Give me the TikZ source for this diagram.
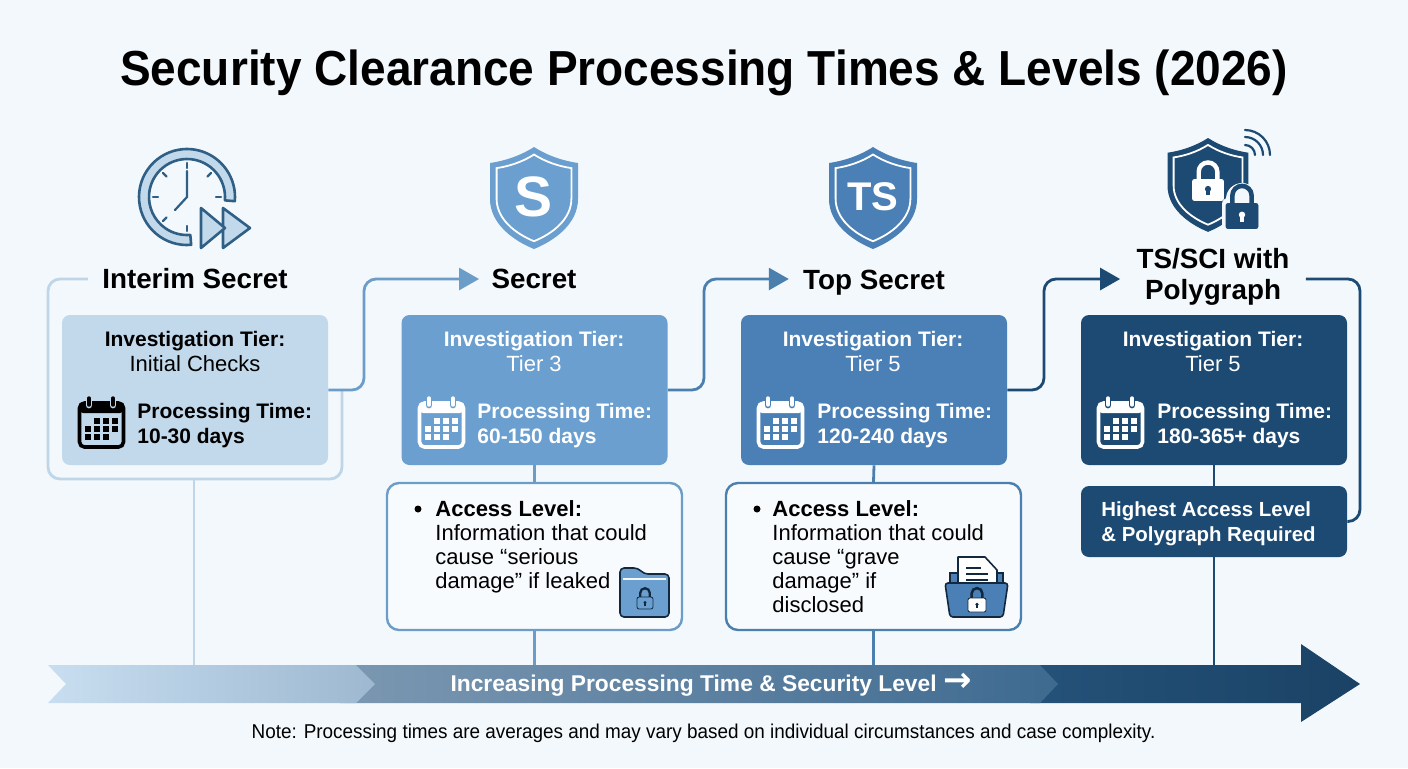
\documentclass[tikz,border=0pt]{standalone}
\usepackage{xcolor}
\usepackage{fontspec}
\setmainfont{Liberation Sans}
\newfontfamily\titlefont[FakeStretch=0.935]{Liberation Sans}
\newfontfamily\notefont[FakeStretch=0.945]{Liberation Sans}
\newfontfamily\arrowfont{DejaVu Sans}
\usetikzlibrary{calc,positioning,arrows.meta}

\definecolor{bgcol}{HTML}{F3F8FC}
\definecolor{tierA}{HTML}{C2D8EB}
\definecolor{tierB}{HTML}{6A9FCF}
\definecolor{tierC}{HTML}{4A80B5}
\definecolor{tierD}{HTML}{1C4A73}
\definecolor{lineA}{HTML}{BFD5E8}
\definecolor{lineB}{HTML}{6C9DC8}
\definecolor{lineC}{HTML}{4A7FAE}
\definecolor{iconD}{HTML}{2F5F85}
\definecolor{inkD}{HTML}{12283F}
\definecolor{bandA}{HTML}{C8DEF0}
\definecolor{bandB}{HTML}{9DB8D0}
\definecolor{bandC}{HTML}{7C98B2}
\definecolor{bandD}{HTML}{3E6A90}
\definecolor{bandE}{HTML}{255279}
\definecolor{bandF}{HTML}{1A4265}

% shield outline around its middle
\newcommand{\shieldpath}{(0,-50) .. controls (14,-41) and (30,-36) .. (44,-34) -- (44,2) .. controls (44,26) and (22,43) .. (0,52) .. controls (-22,43) and (-44,26) .. (-44,2) -- (-44,-34) .. controls (-30,-36) and (-14,-41) .. (0,-50) -- cycle}
\newcommand{\shieldicon}[4]{
	\begin{scope}[shift={(#1,#2)},scale=#3]
		\fill[#4] \shieldpath;
		\draw[white,line width=0.9pt,scale=0.85] \shieldpath;
	\end{scope}
}
% x, y, width, height, body, hole, outline
\newcommand{\padlock}[7]{
	\begin{scope}[shift={(#1,#2)}]
		\draw[#7,line width={#3/14*1pt}] ({-0.3*#3},{-0.5*#4}) -- ++(0,{-0.25*#3}) arc (180:360:{0.3*#3}) -- ++(0,{0.25*#3});
		\filldraw[fill=#5,draw=#7,line width=0.4pt,rounded corners=1pt] ({-0.5*#3},{-0.5*#4}) rectangle ({0.5*#3},{0.5*#4});
		\fill[#6] (0,{-0.05*#4}) circle ({0.1*#3});
		\draw[#6,line width={#3/18*1pt}] (0,0) -- (0,{0.22*#4});
	\end{scope}
}
% x, y, ink, card colour
\newcommand{\calicon}[4]{
	\begin{scope}[shift={(#1,#2)}]
		\draw[#3,line width=1.8pt,rounded corners=2.5pt] (1.5,6) rectangle (45.5,50);
		\fill[#3,rounded corners=2pt] (1,5) rectangle (46,16);
		\draw[#4,line width=3.4pt,line cap=round] (11,1) -- (11,8) (35,1) -- (35,8);
		\draw[#3,line width=1.7pt,line cap=round] (11,1) -- (11,8) (35,1) -- (35,8);
		\foreach \cx/\cy in {19/24,28/24,37/24,10/32,19/32,28/32,37/32,10/40,19/40,28/40}
			\fill[#3] (\cx-2.7,\cy-2.7) rectangle (\cx+2.7,\cy+2.7);
	\end{scope}
}

\begin{document}
\begin{tikzpicture}[
	%	style def
	x=0.5pt,
	y=-0.5pt,
	important line/.style={line width=1.4pt,rounded corners=6pt},
	arrow line/.style={important line,-{Triangle[length=10pt,width=11pt]}},
	card/.style={rounded corners=4pt,minimum width=133pt,minimum height=75pt,inner sep=0pt},
	accessbox/.style={draw,line width=1.2pt,fill=bgcol!60!white,rounded corners=6pt,minimum width=147.5pt,minimum height=73.5pt,inner sep=0pt},
	levelname/.style={font=\fontsize{13.9}{15.5}\selectfont\bfseries,align=center,text=black,inner sep=7pt},
	tiertext/.style={font=\fontsize{10.5}{12.5}\selectfont\bfseries,align=center,inner sep=0pt},
	timetext/.style={font=\fontsize{10.5}{12.5}\selectfont\bfseries,align=left,anchor=west,inner sep=0pt},
	accesstext/.style={font=\fontsize{11}{12}\selectfont,align=left,anchor=north west,inner sep=0pt,text=black},
	clockline/.style={iconD,line width=1.1pt,line cap=round},
	clockfill/.style={draw=iconD,fill=tierA,line width=1.3pt,line join=round}
	]

	\fill[bgcol] (0,0) rectangle (1408,768);
	\useasboundingbox (0,0) rectangle (1408,768);

	\node[font=\titlefont\fontsize{24.6}{28}\selectfont\bfseries,text=black,inner sep=0pt] (title) at (704,73) {Security Clearance Processing Times \& Levels (2026)};

	% clock icon
	\filldraw[clockfill] (187,197) ++(85:48) arc (85:365:48) -- ++(185:10) arc (365:85:38) -- cycle;
	\foreach \a in {0,45,...,315}
		\draw[clockline] (187,197) ++(\a:29) -- ++(\a:5);
	\draw[clockline] (187,171) -- (187,197) -- (175,210);
	\filldraw[clockfill] (223,208) -- (250,228) -- (223,248) -- cycle;
	\filldraw[clockfill] (201,208) -- (225,228) -- (201,248) -- cycle;

	% shields
	\shieldicon{534}{197}{1}{tierB}
	\node[font=\fontsize{28.5}{30}\selectfont\bfseries,text=white,inner sep=0pt] (shieldS) at (534,197) {S};
	\shieldicon{873}{197}{1}{tierC}
	\node[font=\fontsize{20}{22}\selectfont\bfseries,text=white,inner sep=0pt] (shieldTS) at (873,197) {TS};
	\shieldicon{1208}{184}{0.92}{tierD}
	\padlock{1208}{190}{31}{21}{white}{tierD}{white}
	\fill[bgcol,rounded corners=3pt] (1222,198) rectangle (1262,231);
	\fill[bgcol] (1242,199) circle (16);
	\padlock{1242}{216}{32}{25}{tierD}{white}{tierD}
	\draw[tierD,line width=1.1pt,line cap=round]
		(1245,130) arc (-90:0:25)
		(1245,137) arc (-90:0:18)
		(1245,145) arc (-90:0:10);

	% level names
	\node[levelname] (name1) at (195,279) {Interim Secret};
	\node[levelname,inner sep=6pt] (name2) at (534,279) {Secret};
	\node[levelname] (name3) at (874,282.5) {Top Secret};
	\node[levelname,inner sep=8pt] (name4) at (1213,277) {TS/SCI with\\Polygraph};

	% cards
	\node[card,fill=tierA] (card1) at (195,390) {};
	\node[card,fill=tierB] (card2) at (534.5,390) {};
	\node[card,fill=tierC] (card3) at (874,390) {};
	\node[card,fill=tierD] (card4) at (1214,390) {};

	\node[tiertext,text=black] (tier1) at (195,351) {Investigation Tier:\\{\mdseries\fontsize{11}{12.5}\selectfont Initial Checks}};
	\node[tiertext,text=white] (tier2) at (534,351) {Investigation Tier:\\{\mdseries\fontsize{11}{12.5}\selectfont Tier 3}};
	\node[tiertext,text=white] (tier3) at (873,351) {Investigation Tier:\\{\mdseries\fontsize{11}{12.5}\selectfont Tier 5}};
	\node[tiertext,text=white] (tier4) at (1213,351) {Investigation Tier:\\{\mdseries\fontsize{11}{12.5}\selectfont Tier 5}};

	\calicon{78}{397}{black}{tierA}
	\calicon{418}{397}{white}{tierB}
	\calicon{757}{397}{white}{tierC}
	\calicon{1097}{397}{white}{tierD}

	\node[timetext,text=black] (time1) at (137,426) {Processing Time:\\10-30 days};
	\node[timetext,text=white] (time2) at (477,426) {Processing Time:\\60-150 days};
	\node[timetext,text=white] (time3) at (817,426) {Processing Time:\\120-240 days};
	\node[timetext,text=white] (time4) at (1157,426) {Processing Time:\\180-365+ days};

	% access boxes
	\node[accessbox,draw=lineB] (box2) at (534.5,556.5) {};
	\node[accessbox,draw=lineC] (box3) at (873.5,556.5) {};
	\node[card,fill=tierD,minimum height=35.5pt] (box4) at (1214,521.5) {};

	\fill[black] (418,509) circle (3.5);
	\node[accesstext] (access2) at (435,500) {\textbf{Access Level:}\\Information that could\\cause “serious\\damage” if leaked};
	\fill[black] (757,509) circle (3.5);
	\node[accesstext] (access3) at (772,500) {\textbf{Access Level:}\\Information that could\\cause “grave\\damage” if\\disclosed};
	\node[timetext,text=white,font=\fontsize{10.2}{12.5}\selectfont\bfseries] (access4) at (1101,523.5) {Highest Access Level\\\& Polygraph Required};

	% folder with lock
	\filldraw[fill=tierB,draw=inkD,line width=0.8pt,rounded corners=2pt,line join=round] (620,568) -- (638,568) -- (644,574) -- (669,574) -- (669,617) -- (620,617) -- cycle;
	\draw[bgcol,line width=1pt] (623,579) -- (666,579);
	\padlock{645}{603}{16}{12}{tierB}{inkD}{inkD}

	% folder with paper and lock
	\filldraw[fill=tierC,draw=inkD,line width=0.8pt] (950,573) rectangle (1003,590);
	\filldraw[fill=white,draw=inkD,line width=0.8pt,line join=round] (958,590) -- (958,557) -- (985,557) -- (997,570) -- (997,590) -- cycle;
	\draw[inkD,line width=0.7pt] (966,568) -- (981,568) (966,574) -- (988,574) (966,580) -- (988,580);
	\filldraw[fill=tierC,draw=inkD,line width=0.8pt,rounded corners=1.5pt,line join=round] (945,583) -- (1008,583) -- (1003,617) -- (950,617) -- cycle;
	\padlock{977}{605}{18}{14}{white}{inkD}{inkD}

	% arrow band
	\coordinate (bandtop) at (0,665);
	\path[left color=bandE,right color=bandF] (1030,665) -- (1301,665) -- (1301,644) -- (1360,684) -- (1301,722) -- (1301,703) -- (1030,703) -- cycle;
	\path[left color=bandC,right color=bandD] (340,665) -- (1040,665) -- (1058,684) -- (1040,703) -- (340,703) -- cycle;
	\path[left color=bandA,right color=bandB] (48,665) -- (356,665) -- (375,684) -- (356,703) -- (48,703) -- (66,684) -- cycle;
	\node[font=\fontsize{11.4}{13}\selectfont\bfseries,text=white,inner sep=0pt] (bandtext) at (711,686) {Increasing Processing Time \& Security Level {\arrowfont\fontsize{17}{13}\selectfont\smash{→}}};
	\node[font=\notefont\fontsize{10}{12}\selectfont,text=black,inner sep=0pt] (note) at (703.5,733) {Note: Processing times are averages and may vary based on individual circumstances and case complexity.};

	% frame around first card
	\coordinate (frame1) at (48,279);
	\coordinate (frame2) at (48,479);
	\coordinate (frame3) at (342,479);
	\coordinate (frame4) at (342,390);
	\coordinate (framefoot) at (194,479);
	\draw[important line,lineA] (name1.west) -- (frame1) -- (frame2) -- (frame3) -- (frame4);
	\draw[important line,lineA] (framefoot) -- (framefoot |- bandtop);

	% connect cards to next level
	\coordinate (turn1a) at (364,390);
	\coordinate (turn1b) at (364,279);
	\coordinate (turn2a) at (704,390);
	\coordinate (turn2b) at (704,279);
	\coordinate (turn3a) at (1044,390);
	\coordinate (turn3b) at (1044,279);
	\coordinate (turn4a) at (1360,279);
	\coordinate (turn4b) at (1360,521.5);
	\draw[arrow line,lineB] (card1.east) -- (turn1a) -- (turn1b) -- (name2.west);
	\draw[arrow line,lineC] (card2.east) -- (turn2a) -- (turn2b) -- (name3.west |- turn2b);
	\draw[arrow line,tierD] (card3.east) -- (turn3a) -- (turn3b) -- (name4.west |- turn3b);
	\draw[important line,tierD] (name4.east |- turn4a) -- (turn4a) -- (turn4b) -- (box4.east);

	% stems down to band
	\draw[important line,lineB] (card2.south) -- (box2.north);
	\draw[important line,lineB] (box2.south) -- (box2.south |- bandtop);
	\draw[important line,lineC] (card3.south) -- (box3.north);
	\draw[important line,lineC] (box3.south) -- (box3.south |- bandtop);
	\draw[important line,tierD] (card4.south) -- (box4.north);
	\draw[important line,tierD] (box4.south) -- (box4.south |- bandtop);

\end{tikzpicture}
\end{document}
